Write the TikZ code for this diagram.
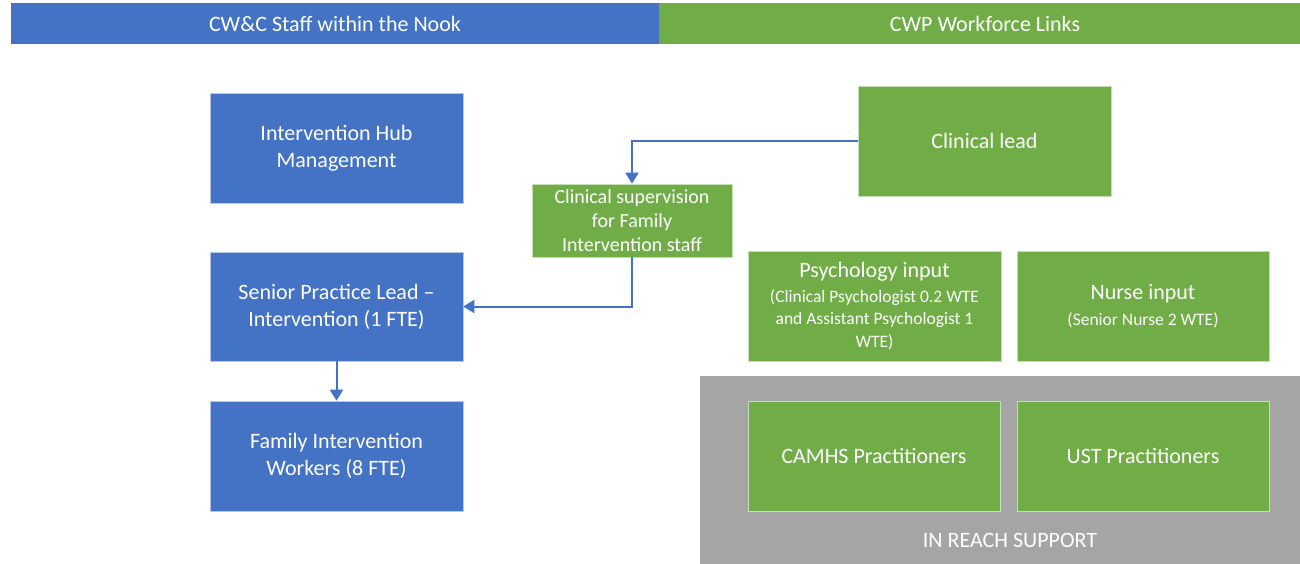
\documentclass[tikz,border=0pt]{standalone}
\usepackage{fontspec}
\setmainfont{Carlito}
\usetikzlibrary{arrows.meta}
\definecolor{cblue}{HTML}{4472C4}
\definecolor{cgreen}{HTML}{70AD47}
\definecolor{cgray}{HTML}{A5A5A5}
\tikzset{
  box/.style={rectangle, draw=white!60!#1, line width=0.6pt, fill=#1, text=white, align=center, inner sep=0pt,
    minimum width=253pt, minimum height=110pt, font=\fontsize{22}{27}\selectfont},
  conn/.style={draw=cblue, line width=2pt, -{Triangle[width=13pt,length=11pt]}},
}
\newcommand{\sm}[1]{{\fontsize{17.5}{22.5}\selectfont #1}}
\begin{document}
\begin{tikzpicture}[x=1pt,y=-1pt]
\useasboundingbox (0,0) rectangle (1300,564);
% headers
\fill[cblue] (11,3) rectangle (659,44);
\fill[cgreen] (659,3) rectangle (1300,44);
\node[text=white, font=\fontsize{22}{26}\selectfont] (h1) at (335,23.5) {CW\&C Staff within the Nook};
\node[text=white, font=\fontsize{22}{26}\selectfont] (h2) at (985,23.5) {CWP Workforce Links};
% gray region
\fill[cgray] (700,376) rectangle (1300,564);
\node[text=white, font=\fontsize{22}{26}\selectfont] (irs) at (1010,540) {IN REACH SUPPORT};
% left column
\node[box=cblue] (hub) at (336.5,148) {Intervention Hub\\Management};
\node[box=cblue, minimum height=109pt] (spl) at (336.5,306.5) {Senior Practice Lead –\\Intervention (1 FTE)};
\node[box=cblue] (fiw) at (336.5,456) {Family Intervention\\Workers (8 FTE)};
% supervision
\node[box=cgreen, minimum width=200pt, minimum height=73pt, font=\fontsize{20}{24}\selectfont] (sup) at (632,220.5) {Clinical supervision\\for Family\\Intervention staff};
% right
\node[box=cgreen] (lead) at (984.5,141) {Clinical lead};
\node[box=cgreen] (psy) at (874.5,306) {Psychology input\\[-2.5pt]\sm{(Clinical Psychologist 0.2 WTE}\\[-4.5pt]\sm{and Assistant Psychologist 1}\\[-4.5pt]\sm{WTE)}};
\node[box=cgreen, minimum width=252pt] (nurse) at (1143,306) {Nurse input\\[-1pt]\sm{(Senior Nurse 2 WTE)}};
\node[box=cgreen, minimum width=252pt] (camhs) at (874,456) {CAMHS Practitioners};
\node[box=cgreen, minimum width=252pt] (ust) at (1143,456) {UST Practitioners};
% connectors
\draw[conn] (lead.west) -| (sup.north);
\draw[conn] (sup.south) |- (spl.east);
\draw[conn] (spl.south) -- (fiw.north);
\end{tikzpicture}
\end{document}
